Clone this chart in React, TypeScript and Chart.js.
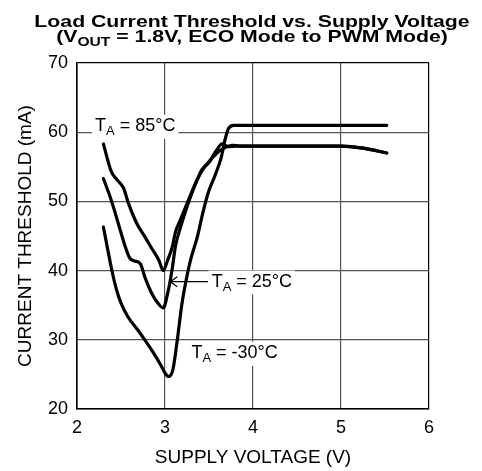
import React, { useEffect, useRef } from "react";
import { Chart, registerables } from "chart.js";

Chart.register(...registerables);

const FONT = "'Liberation Sans', Arial, Helvetica, sans-serif";

const xTicks = [2, 3, 4, 5, 6];
const yTicks = [20, 30, 40, 50, 60, 70];

const titleLine1 = "Load Current Threshold vs. Supply Voltage";
const titleLine2Pre = "(V";
const titleLine2Sub = "OUT";
const titleLine2Post = " = 1.8V, ECO Mode to PWM Mode)";
const xTitle = "SUPPLY VOLTAGE (V)";
const yTitle = "CURRENT THRESHOLD (mA)";

// T_A = 85°C
const t85V = [2.3, 2.39, 2.45, 2.53, 2.58, 2.68, 2.77, 2.85, 2.93, 2.98, 3.03, 3.08, 3.12, 3.17, 3.27, 3.36, 3.44, 3.51, 3.61, 3.7, 3.77, 3.85, 4.5, 5.0, 5.25, 5.52];
const t85I = [58.3, 54.3, 53.2, 51.9, 49.9, 46.8, 44.9, 43.2, 41.5, 40.0, 41.5, 43.3, 45.6, 47.2, 50.3, 53.0, 54.8, 55.9, 57.2, 57.9, 58.1, 58.0, 58.0, 58.0, 57.7, 57.0];

// T_A = 25°C
const t25V = [2.3, 2.375, 2.43, 2.49, 2.55, 2.6, 2.65, 2.72, 2.77, 2.85, 2.92, 2.98, 3.03, 3.08, 3.12, 3.18, 3.26, 3.34, 3.42, 3.5, 3.58, 3.65, 3.72, 3.8, 4.5, 5.0, 5.25, 5.52];
const t25I = [53.3, 50.7, 48.5, 45.9, 43.4, 41.8, 41.4, 41.0, 39.1, 36.7, 35.3, 34.6, 36.7, 40.1, 43.6, 46.4, 49.6, 52.3, 54.6, 55.6, 57.3, 58.3, 57.9, 58.0, 58.0, 58.0, 57.7, 57.0];

// T_A = -30°C
const tm30V = [2.3, 2.35, 2.4, 2.45, 2.5, 2.58, 2.68, 2.77, 2.86, 2.95, 3.0, 3.04, 3.09, 3.14, 3.19, 3.24, 3.29, 3.37, 3.42, 3.49, 3.57, 3.64, 3.68, 3.72, 3.78, 3.85, 4.5, 5.0, 5.52];
const tm30I = [46.3, 43.0, 39.8, 37.2, 35.3, 33.3, 31.6, 30.0, 28.3, 26.4, 25.2, 24.7, 25.7, 30.0, 35.0, 38.6, 41.5, 45.0, 47.8, 51.2, 53.8, 56.4, 58.8, 60.5, 61.0, 61.0, 61.0, 61.0, 61.0];

// label anchors (data coordinates): [V, I]
const label85 = { text: " = 85°C", at: [2.205, 60.2] };
const label25 = { text: " = 25°C", at: [3.53, 37.7], arrowFrom: 3.49, arrowTo: 3.06, arrowI: 38.4 };
const labelM30 = { text: " = -30°C", at: [3.3, 27.4] };

const toPts = (vs: number[], is: number[]) => vs.map((v, i) => ({ x: v, y: is[i] }));

function drawTA(ctx: CanvasRenderingContext2D, x: number, y: number, rest: string) {
  ctx.save();
  ctx.textBaseline = "alphabetic";
  ctx.textAlign = "left";
  const mainFont = `18px ${FONT}`;
  const subFont = `13px ${FONT}`;
  ctx.font = mainFont;
  const wT = ctx.measureText("T").width;
  ctx.font = subFont;
  const wA = ctx.measureText("A").width;
  ctx.font = mainFont;
  const wR = ctx.measureText(rest).width;
  const total = wT + wA + wR;
  ctx.fillStyle = "#fff";
  ctx.fillRect(x - 3, y - 16, total + 6, 24);
  ctx.fillStyle = "#000";
  ctx.font = mainFont;
  ctx.fillText("T", x, y);
  ctx.font = subFont;
  ctx.fillText("A", x + wT, y + 4);
  ctx.font = mainFont;
  ctx.fillText(rest, x + wT + wA, y);
  ctx.restore();
}

const annotPlugin = {
  id: "annot",
  beforeDatasetsDraw(chart: any) {
    const ctx = chart.ctx as CanvasRenderingContext2D;
    const xs = chart.scales.x;
    const ys = chart.scales.y;
    drawTA(ctx, xs.getPixelForValue(label85.at[0]), ys.getPixelForValue(label85.at[1]), label85.text);
    drawTA(ctx, xs.getPixelForValue(label25.at[0]), ys.getPixelForValue(label25.at[1]), label25.text);
    drawTA(ctx, xs.getPixelForValue(labelM30.at[0]), ys.getPixelForValue(labelM30.at[1]), labelM30.text);
  },
  afterDatasetsDraw(chart: any) {
    const ctx = chart.ctx as CanvasRenderingContext2D;
    const xs = chart.scales.x;
    const ys = chart.scales.y;
    const x1 = xs.getPixelForValue(label25.arrowFrom);
    const x2 = xs.getPixelForValue(label25.arrowTo);
    const y = ys.getPixelForValue(label25.arrowI);
    ctx.save();
    ctx.strokeStyle = "#000";
    ctx.lineWidth = 1.3;
    ctx.beginPath();
    ctx.moveTo(x1, y);
    ctx.lineTo(x2, y);
    ctx.moveTo(x2 + 7, y - 5);
    ctx.lineTo(x2, y);
    ctx.lineTo(x2 + 7, y + 5);
    ctx.stroke();
    ctx.restore();
  },
  afterDraw(chart: any) {
    const ctx = chart.ctx as CanvasRenderingContext2D;
    const ca = chart.chartArea;
    const cx = (ca.left + ca.right) / 2 - 1;
    const SX = 1.25;
    ctx.save();
    ctx.fillStyle = "#000";
    ctx.textBaseline = "alphabetic";
    ctx.translate(cx, 0);
    ctx.scale(SX, 1);
    ctx.font = `bold 17px ${FONT}`;
    ctx.textAlign = "center";
    ctx.fillText(titleLine1, 0, 27);
    ctx.textAlign = "left";
    const mainF = `bold 17px ${FONT}`;
    const subF = `bold 12.5px ${FONT}`;
    ctx.font = mainF;
    const w1 = ctx.measureText(titleLine2Pre).width;
    const w3 = ctx.measureText(titleLine2Post).width;
    ctx.font = subF;
    const w2 = ctx.measureText(titleLine2Sub).width;
    let x = -(w1 + w2 + w3) / 2;
    ctx.font = mainF;
    ctx.fillText(titleLine2Pre, x, 41.5);
    x += w1;
    ctx.font = subF;
    ctx.fillText(titleLine2Sub, x, 45.5);
    x += w2;
    ctx.font = mainF;
    ctx.fillText(titleLine2Post, x, 41.5);
    ctx.restore();
  },
};

export default function App() {
  const ref = useRef<HTMLCanvasElement | null>(null);
  useEffect(() => {
    if (!ref.current) return;
    const lineDs = (label: string, vs: number[], is: number[]) => ({
      label,
      data: toPts(vs, is),
      borderColor: "#000",
      backgroundColor: "#000",
      borderWidth: 3.2,
      pointRadius: 0,
      showLine: true,
      fill: false,
      cubicInterpolationMode: "monotone" as const,
      borderCapStyle: "round" as const,
      borderJoinStyle: "round" as const,
    });
    const gridColor = (c: any) => {
      const v = c.tick ? c.tick.value : null;
      return v === 6 || v === 70 ? "#000" : "#555";
    };
    const chart = new Chart(ref.current, {
      type: "scatter",
      data: {
        datasets: [
          lineDs("T_A = 85°C", t85V, t85I),
          lineDs("T_A = 25°C", t25V, t25I),
          lineDs("T_A = -30°C", tm30V, tm30I),
        ],
      },
      options: {
        animation: false,
        responsive: false,
        maintainAspectRatio: false,
        layout: { padding: { top: 63, right: 53, left: 0, bottom: 0 } },
        plugins: {
          legend: { display: false },
          tooltip: { enabled: false },
          title: { display: false },
        },
        scales: {
          x: {
            type: "linear",
            min: xTicks[0],
            max: xTicks[xTicks.length - 1],
            afterBuildTicks: (s: any) => {
              s.ticks = xTicks.map((v) => ({ value: v }));
            },
            ticks: { color: "#000", font: { family: FONT, size: 18 }, padding: 8 },
            grid: { color: gridColor, lineWidth: 1.2, drawTicks: false },
            border: { color: "#000", width: 1.6 },
            title: {
              display: true,
              text: xTitle,
              color: "#000",
              font: { family: FONT, size: 19 },
              padding: { top: 0, bottom: 2 },
            },
            afterFit: (s: any) => {
              s.height = 62;
            },
          },
          y: {
            type: "linear",
            min: yTicks[0],
            max: yTicks[yTicks.length - 1],
            afterBuildTicks: (s: any) => {
              s.ticks = yTicks.map((v) => ({ value: v }));
            },
            ticks: { color: "#000", font: { family: FONT, size: 18 }, padding: 9 },
            grid: { color: gridColor, lineWidth: 1.2, drawTicks: false },
            border: { color: "#000", width: 1.6 },
            title: {
              display: true,
              text: yTitle,
              color: "#000",
              font: { family: FONT, size: 19 },
              padding: { top: 14.5, bottom: 0 },
            },
            afterFit: (s: any) => {
              s.width = 77;
            },
          },
        },
      },
      plugins: [annotPlugin],
    });
    return () => chart.destroy();
  }, []);
  return (
    <div style={{ position: "absolute", left: 0, top: 0, width: 482, height: 471, background: "#fff" }}>
      <canvas ref={ref} width={482} height={471} style={{ display: "block" }} />
    </div>
  );
}
